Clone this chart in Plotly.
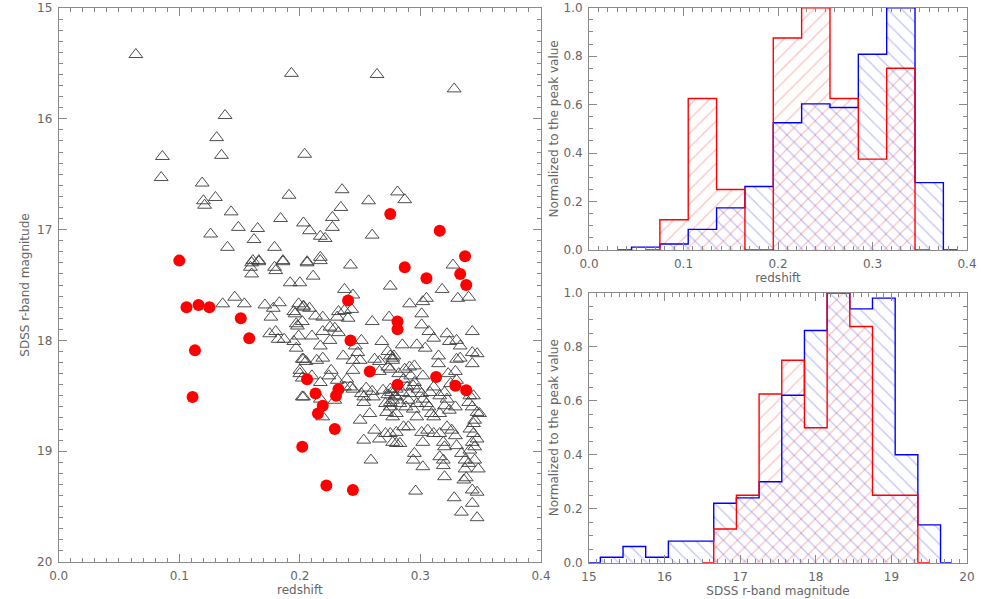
import plotly.graph_objects as go

# ---------------- data ----------------
# Comparison sample (open triangles): redshift, SDSS r magnitude
tri_z = [0.064, 0.193, 0.264, 0.328, 0.138, 0.131, 0.135, 0.086, 0.085, 0.119,
         0.120, 0.121, 0.130, 0.191, 0.204, 0.143, 0.149, 0.165, 0.184, 0.126,
         0.162, 0.140, 0.179, 0.186, 0.161, 0.166, 0.159, 0.179, 0.235, 0.257,
         0.281, 0.287, 0.234, 0.227, 0.203, 0.208, 0.227, 0.217, 0.221, 0.260,
         0.206, 0.217, 0.242, 0.327, 0.160, 0.166, 0.160, 0.180, 0.186, 0.192,
         0.200, 0.136, 0.146, 0.154, 0.171, 0.183, 0.178, 0.176, 0.199, 0.203,
         0.195, 0.196, 0.202, 0.197, 0.198, 0.175, 0.180, 0.182, 0.187, 0.195,
         0.197, 0.199, 0.202, 0.205, 0.200, 0.202, 0.202, 0.206, 0.217, 0.211,
         0.275, 0.237, 0.244, 0.203, 0.208, 0.213, 0.219, 0.232, 0.237, 0.243,
         0.231, 0.240, 0.260, 0.274, 0.225, 0.229, 0.219, 0.232, 0.225, 0.210,
         0.217, 0.251, 0.246, 0.248, 0.268, 0.273, 0.278, 0.203, 0.214, 0.219,
         0.236, 0.244, 0.250, 0.262, 0.266, 0.273, 0.277, 0.226, 0.244, 0.266,
         0.275, 0.200, 0.210, 0.224, 0.239, 0.217, 0.231, 0.242, 0.255, 0.260,
         0.253, 0.237, 0.244, 0.251, 0.269, 0.276, 0.280, 0.203, 0.217, 0.229,
         0.261, 0.273, 0.219, 0.253, 0.271, 0.275, 0.280, 0.250, 0.258, 0.272,
         0.277, 0.262, 0.271, 0.280, 0.253, 0.266, 0.280, 0.259, 0.318, 0.291,
         0.302, 0.305, 0.331, 0.340, 0.301, 0.301, 0.307, 0.311, 0.322, 0.324,
         0.330, 0.333, 0.343, 0.285, 0.297, 0.304, 0.315, 0.315, 0.330, 0.333,
         0.343, 0.347, 0.343, 0.275, 0.277, 0.287, 0.291, 0.295, 0.302, 0.323,
         0.329, 0.330, 0.325, 0.282, 0.286, 0.292, 0.294, 0.295, 0.279, 0.275,
         0.285, 0.289, 0.291, 0.298, 0.301, 0.308, 0.311, 0.316, 0.320, 0.322,
         0.340, 0.341, 0.344, 0.349, 0.277, 0.283, 0.290, 0.297, 0.302, 0.307,
         0.309, 0.275, 0.280, 0.288, 0.294, 0.297, 0.305, 0.311, 0.316, 0.320,
         0.324, 0.329, 0.343, 0.347, 0.345, 0.344, 0.286, 0.290, 0.301, 0.306,
         0.311, 0.302, 0.316, 0.319, 0.322, 0.326, 0.329, 0.320, 0.341, 0.344,
         0.347, 0.345, 0.343, 0.275, 0.277, 0.283, 0.295, 0.294, 0.316, 0.319,
         0.330, 0.334, 0.337, 0.341, 0.302, 0.319, 0.320, 0.337, 0.340, 0.345,
         0.348, 0.336, 0.338, 0.343, 0.347, 0.296, 0.328, 0.334, 0.343, 0.347]
tri_r = [15.42, 15.59, 15.60, 15.73, 15.97, 16.17, 16.33, 16.34, 16.53, 16.58,
         16.74, 16.78, 16.71, 16.69, 16.32, 16.84, 16.98, 16.99, 16.90, 17.04,
         17.09, 17.16, 17.16, 17.28, 17.28, 17.28, 17.34, 17.34, 16.64, 16.74,
         16.66, 16.73, 16.80, 16.89, 16.94, 17.01, 16.98, 17.06, 17.08, 17.05,
         17.29, 17.25, 17.32, 17.32, 17.30, 17.29, 17.40, 17.37, 17.29, 17.48,
         17.48, 17.67, 17.61, 17.67, 17.68, 17.66, 17.71, 17.79, 17.67, 17.70,
         17.74, 17.76, 17.83, 17.85, 17.87, 17.94, 17.92, 17.99, 17.99, 18.01,
         18.07, 17.96, 18.17, 18.19, 18.27, 18.34, 18.51, 17.30, 17.28, 17.42,
         17.51, 17.54, 17.59, 17.69, 17.71, 17.78, 17.79, 17.74, 17.73, 17.72,
         17.79, 17.80, 17.83, 17.79, 17.88, 17.89, 17.92, 17.93, 18.00, 17.96,
         18.05, 18.00, 18.05, 18.11, 18.01, 18.10, 18.14, 18.17, 18.18, 18.16,
         18.14, 18.18, 18.18, 18.17, 18.19, 18.24, 18.18, 18.27, 18.27, 18.28,
         18.26, 18.30, 18.32, 18.32, 18.35, 18.38, 18.36, 18.42, 18.43, 18.46,
         18.51, 18.42, 18.44, 18.48, 18.45, 18.47, 18.44, 18.51, 18.53, 18.54,
         18.51, 18.49, 18.69, 18.56, 18.57, 18.56, 18.51, 18.72, 18.66, 18.65,
         18.69, 18.81, 18.84, 18.83, 18.90, 18.89, 18.93, 19.08, 17.54, 17.67,
         17.65, 17.62, 17.62, 17.61, 17.76, 17.86, 17.92, 17.98, 17.94, 18.01,
         18.00, 18.05, 17.92, 18.04, 18.04, 18.07, 18.14, 18.21, 18.17, 18.16,
         18.11, 18.12, 18.21, 18.14, 18.16, 18.26, 18.24, 18.23, 18.32, 18.30,
         18.28, 18.36, 18.39, 18.30, 18.35, 18.32, 18.41, 18.38, 18.50, 18.44,
         18.47, 18.42, 18.48, 18.44, 18.48, 18.47, 18.42, 18.50, 18.47, 18.53,
         18.56, 18.50, 18.50, 18.66, 18.54, 18.57, 18.54, 18.57, 18.53, 18.60,
         18.66, 18.60, 18.66, 18.60, 18.62, 18.69, 18.57, 18.69, 18.66, 18.59,
         18.63, 18.60, 18.60, 18.65, 18.72, 18.75, 18.78, 18.78, 18.83, 18.81,
         18.84, 18.92, 18.84, 18.92, 18.78, 18.81, 18.86, 18.96, 18.80, 18.84,
         18.89, 18.96, 18.92, 18.84, 18.92, 18.93, 19.02, 19.08, 19.05, 19.08,
         18.95, 19.02, 19.08, 18.99, 19.14, 19.13, 19.23, 19.16, 19.11, 19.08,
         19.16, 19.26, 19.24, 19.35, 19.37, 19.36, 19.42, 19.55, 19.47, 19.60]

# Target sample (filled red circles)
red_z = [0.100, 0.106, 0.116, 0.125, 0.151, 0.158, 0.113, 0.111, 0.275, 0.316,
         0.337, 0.287, 0.333, 0.338, 0.305, 0.240, 0.281, 0.281, 0.242, 0.258,
         0.206, 0.281, 0.213, 0.232, 0.230, 0.219, 0.215, 0.229, 0.202, 0.222,
         0.244, 0.313, 0.329, 0.338]
red_r = [17.28, 17.70, 17.68, 17.70, 17.80, 17.98, 18.09, 18.51, 16.86, 17.01,
         17.24, 17.34, 17.40, 17.50, 17.44, 17.64, 17.83, 17.90, 18.00, 18.28,
         18.35, 18.40, 18.48, 18.44, 18.50, 18.59, 18.66, 18.80, 18.96, 19.31,
         19.35, 18.33, 18.41, 18.45]

# Redshift histograms (bin centres, normalized to peak)
zh_red_x = [0.06, 0.09, 0.12, 0.15, 0.18, 0.21, 0.24, 0.27, 0.30, 0.33, 0.36]
zh_red_y = [0.0, 0.125, 0.625, 0.25, 0.0, 0.875, 1.0, 0.625, 0.375, 0.75, 0.0]
zh_blue_x = [0.03, 0.06, 0.09, 0.12, 0.15, 0.18, 0.21, 0.24, 0.27, 0.30, 0.33, 0.36, 0.39]
zh_blue_y = [0.0, 0.012, 0.025, 0.085, 0.174, 0.262, 0.525, 0.603, 0.588, 0.808, 1.0, 0.278, 0.0]

# Magnitude histograms (bin centres, normalized to peak)
mh_red_x = [16.5, 16.8, 17.1, 17.4, 17.7, 18.0, 18.3, 18.6, 18.9, 19.2, 19.5]
mh_red_y = [0.0, 0.125, 0.25, 0.625, 0.75, 0.5, 1.0, 0.875, 0.25, 0.25, 0.0]
mh_blue_x = [15.0, 15.3, 15.6, 15.9, 16.2, 16.5, 16.8, 17.1, 17.4, 17.7, 18.0,
             18.3, 18.6, 18.9, 19.2, 19.5, 19.8]
mh_blue_y = [0.0, 0.02, 0.06, 0.02, 0.08, 0.08, 0.22, 0.24, 0.30, 0.62, 0.86,
             1.0, 0.94, 0.98, 0.40, 0.14, 0.0]

zbin_w = 0.03
mbin_w = 0.3

# ---------------- style ----------------
FONT = "DejaVu Sans"
TXT = "#666666"
AX = "#8a8a8a"
RED = "#ff0000"
BLUE = "#0000ff"
W, H = 981, 599

fig = go.Figure()

# left scatter
fig.add_trace(go.Scatter(x=tri_z, y=tri_r, mode="markers", xaxis="x", yaxis="y",
                         marker=dict(symbol="triangle-up-open", size=12,
                                     color="#3a3a3a", line=dict(width=0.9, color="#3a3a3a")),
                         showlegend=False))
fig.add_trace(go.Scatter(x=red_z, y=red_r, mode="markers", xaxis="x", yaxis="y",
                         marker=dict(symbol="circle", size=12, color=RED, line=dict(width=0)),
                         showlegend=False))

def hatched(xs, ys, w, shape, col, xa, ya):
    fig.add_trace(go.Bar(x=xs, y=ys, width=w, xaxis=xa, yaxis=ya,
                         marker=dict(color="rgba(0,0,0,0)", line=dict(width=0),
                                     pattern=dict(shape=shape, fgcolor=col,
                                                  bgcolor="rgba(0,0,0,0)",
                                                  size=10, solidity=0.12)),
                         showlegend=False, hoverinfo="skip"))

def outline(xs, ys, col, xa, ya):
    fig.add_trace(go.Scatter(x=xs, y=ys, mode="lines", xaxis=xa, yaxis=ya,
                             line=dict(shape="hvh", color=col, width=1.4),
                             cliponaxis=False, showlegend=False))

hatched(zh_blue_x, zh_blue_y, zbin_w, "\\", "rgba(0,0,255,0.5)", "x2", "y2")
hatched(zh_red_x, zh_red_y, zbin_w, "/", "rgba(255,0,0,0.5)", "x2", "y2")
outline(zh_blue_x, zh_blue_y, BLUE, "x2", "y2")
outline(zh_red_x, zh_red_y, RED, "x2", "y2")

hatched(mh_blue_x, mh_blue_y, mbin_w, "\\", "rgba(0,0,255,0.5)", "x3", "y3")
hatched(mh_red_x, mh_red_y, mbin_w, "/", "rgba(255,0,0,0.5)", "x3", "y3")
outline(mh_blue_x, mh_blue_y, BLUE, "x3", "y3")
outline(mh_red_x, mh_red_y, RED, "x3", "y3")


def ax(domain, rng, dtick, minor_dtick, title, fmt, standoff, anchor, tick0):
    return dict(domain=domain, range=rng, autorange=False, automargin=False,
                dtick=dtick, tick0=tick0,
                ticks="inside", ticklen=8, tickwidth=1, tickcolor=AX,
                minor=dict(dtick=minor_dtick, tick0=tick0, ticks="inside", ticklen=4,
                           tickwidth=1, tickcolor=AX),
                showline=True, linecolor=AX, linewidth=1, mirror=True,
                showgrid=False, zeroline=False, tickformat=fmt,
                tickfont=dict(family=FONT, size=12, color=TXT),
                title=dict(text=title, font=dict(family=FONT, size=12, color=TXT),
                           standoff=standoff),
                anchor=anchor, ticklabelstandoff=3)


def mirror_ax(base, side, overlay, anchor):
    return dict(domain=base["domain"], range=base["range"], autorange=False,
                automargin=False, dtick=base["dtick"], tick0=base["tick0"],
                ticks="inside", ticklen=8, tickwidth=1, tickcolor=AX,
                minor=base["minor"], showline=False, showgrid=False, zeroline=False,
                showticklabels=False, side=side, overlaying=overlay, anchor=anchor)


def px_x(a, b):
    return [a / W, b / W]


def px_y(top, bot):
    return [1 - bot / H, 1 - top / H]


xa1 = ax(px_x(58.7, 541), [0, 0.4], 0.1, 0.01, "redshift", ".1f", 0, "y", 0)
ya1 = ax(px_y(8, 562), [20, 15], 1, 0.1, "SDSS r-band magnitude", "d", 4, "x", 15)
xa2 = ax(px_x(589, 967), [0, 0.4], 0.1, 0.01, "redshift", ".1f", 2, "y2", 0)
ya2 = ax(px_y(7.7, 250), [0, 1.0], 0.2, 0.05, "Normalized to the peak value", ".1f", 2, "x2", 0)
xa3 = ax(px_x(589, 967), [15, 20], 1, 0.1, "SDSS r-band magnitude", "d", 0, "y3", 15)
ya3 = ax(px_y(292.7, 562.7), [0, 1.0], 0.2, 0.05, "Normalized to the peak value", ".1f", 2, "x3", 0)

fig.update_layout(
    width=W, height=H, margin=dict(l=0, r=0, t=0, b=0),
    paper_bgcolor="white", plot_bgcolor="white", barmode="overlay", bargap=0,
    xaxis=xa1, yaxis=ya1, xaxis2=xa2, yaxis2=ya2, xaxis3=xa3, yaxis3=ya3,
    # opposite-side tick axes (top / right), as in the original framed plots
    xaxis4=mirror_ax(xa1, "top", "x", "y4"), yaxis4=mirror_ax(ya1, "right", "y", "x4"),
    xaxis5=mirror_ax(xa2, "top", "x2", "y5"), yaxis5=mirror_ax(ya2, "right", "y2", "x5"),
    xaxis6=mirror_ax(xa3, "top", "x3", "y6"), yaxis6=mirror_ax(ya3, "right", "y3", "x6"),
)
for k in (4, 5, 6):
    fig.add_trace(go.Scatter(x=[None], y=[None], xaxis=f"x{k}", yaxis=f"y{k}",
                             mode="markers", showlegend=False, hoverinfo="skip"))

fig.write_html("out.html", config={"displayModeBar": False},
               post_script="document.body.style.margin='0';document.body.style.overflow='hidden';")
